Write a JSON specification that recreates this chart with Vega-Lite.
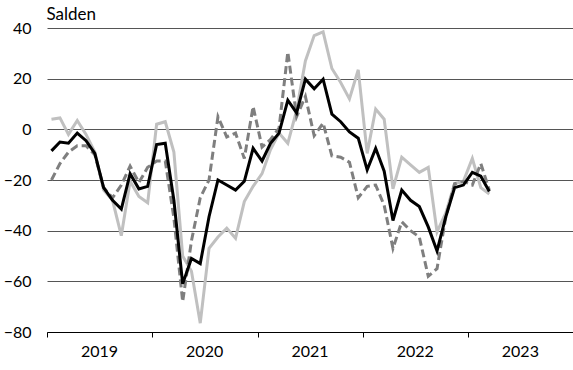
{
  "$schema": "https://vega.github.io/schema/vega-lite/v6.json",
  "width": 526,
  "height": 304,
  "autosize": "none",
  "padding": {"left": 47, "top": 28, "right": 0, "bottom": 38},
  "background": "white",
  "config": {
    "view": {"stroke": null},
    "font": "Lato",
    "axis": {"labelFont": "Lato", "titleFont": "Lato", "labelColor": "#000", "titleColor": "#000"}
  },
  "datasets": {
    "reihe1": [
      {"m":"2019-01-01","v":-8.5},{"m":"2019-02-01","v":-5},{"m":"2019-03-01","v":-5.5},{"m":"2019-04-01","v":-1.5},{"m":"2019-05-01","v":-4.5},{"m":"2019-06-01","v":-9.5},
      {"m":"2019-07-01","v":-23},{"m":"2019-08-01","v":-28},{"m":"2019-09-01","v":-31.5},{"m":"2019-10-01","v":-17.5},{"m":"2019-11-01","v":-23.5},{"m":"2019-12-01","v":-22.5},
      {"m":"2020-01-01","v":-6},{"m":"2020-02-01","v":-5.5},{"m":"2020-03-01","v":-28},{"m":"2020-04-01","v":-61},{"m":"2020-05-01","v":-51},{"m":"2020-06-01","v":-53},
      {"m":"2020-07-01","v":-34.5},{"m":"2020-08-01","v":-20},{"m":"2020-09-01","v":-22},{"m":"2020-10-01","v":-24},{"m":"2020-11-01","v":-20.5},{"m":"2020-12-01","v":-7.5},
      {"m":"2021-01-01","v":-12.5},{"m":"2021-02-01","v":-5.5},{"m":"2021-03-01","v":-1.5},{"m":"2021-04-01","v":11.5},{"m":"2021-05-01","v":6.5},{"m":"2021-06-01","v":19.8},
      {"m":"2021-07-01","v":16},{"m":"2021-08-01","v":19.8},{"m":"2021-09-01","v":6},{"m":"2021-10-01","v":3},{"m":"2021-11-01","v":-1},{"m":"2021-12-01","v":-3.5},
      {"m":"2022-01-01","v":-16},{"m":"2022-02-01","v":-7.5},{"m":"2022-03-01","v":-16.5},{"m":"2022-04-01","v":-36},{"m":"2022-05-01","v":-24},{"m":"2022-06-01","v":-28},
      {"m":"2022-07-01","v":-30.5},{"m":"2022-08-01","v":-38.5},{"m":"2022-09-01","v":-48},{"m":"2022-10-01","v":-34.5},{"m":"2022-11-01","v":-23},{"m":"2022-12-01","v":-22},
      {"m":"2023-01-01","v":-17},{"m":"2023-02-01","v":-18.5},{"m":"2023-03-01","v":-24.5}
    ],
    "reihe2": [
      {"m":"2019-01-01","v":-20},{"m":"2019-02-01","v":-13.5},{"m":"2019-03-01","v":-9},{"m":"2019-04-01","v":-6.5},{"m":"2019-05-01","v":-6.5},{"m":"2019-06-01","v":-10},
      {"m":"2019-07-01","v":-23},{"m":"2019-08-01","v":-27},{"m":"2019-09-01","v":-22},{"m":"2019-10-01","v":-14.5},{"m":"2019-11-01","v":-21},{"m":"2019-12-01","v":-15},
      {"m":"2020-01-01","v":-12.5},{"m":"2020-02-01","v":-12.5},{"m":"2020-03-01","v":-35},{"m":"2020-04-01","v":-68},{"m":"2020-05-01","v":-44},{"m":"2020-06-01","v":-27},
      {"m":"2020-07-01","v":-20},{"m":"2020-08-01","v":5},{"m":"2020-09-01","v":-3},{"m":"2020-10-01","v":-1.5},{"m":"2020-11-01","v":-11.5},{"m":"2020-12-01","v":9},
      {"m":"2021-01-01","v":-7},{"m":"2021-02-01","v":-4},{"m":"2021-03-01","v":0.5},{"m":"2021-04-01","v":30.5},{"m":"2021-05-01","v":5},{"m":"2021-06-01","v":13},
      {"m":"2021-07-01","v":-2.5},{"m":"2021-08-01","v":2.5},{"m":"2021-09-01","v":-10.5},{"m":"2021-10-01","v":-11},{"m":"2021-11-01","v":-13},{"m":"2021-12-01","v":-27},
      {"m":"2022-01-01","v":-22.5},{"m":"2022-02-01","v":-22},{"m":"2022-03-01","v":-30},{"m":"2022-04-01","v":-47},{"m":"2022-05-01","v":-36.5},{"m":"2022-06-01","v":-40},
      {"m":"2022-07-01","v":-42.5},{"m":"2022-08-01","v":-58},{"m":"2022-09-01","v":-55},{"m":"2022-10-01","v":-34.5},{"m":"2022-11-01","v":-21.5},{"m":"2022-12-01","v":-20.5},
      {"m":"2023-01-01","v":-22},{"m":"2023-02-01","v":-13.5},{"m":"2023-03-01","v":-24}
    ],
    "reihe3": [
      {"m":"2019-01-01","v":4},{"m":"2019-02-01","v":4.5},{"m":"2019-03-01","v":-2},{"m":"2019-04-01","v":3.5},{"m":"2019-05-01","v":-2},{"m":"2019-06-01","v":-9},
      {"m":"2019-07-01","v":-24},{"m":"2019-08-01","v":-28},{"m":"2019-09-01","v":-42},{"m":"2019-10-01","v":-20.5},{"m":"2019-11-01","v":-26.5},{"m":"2019-12-01","v":-29},
      {"m":"2020-01-01","v":2},{"m":"2020-02-01","v":3},{"m":"2020-03-01","v":-9},{"m":"2020-04-01","v":-50},{"m":"2020-05-01","v":-56},{"m":"2020-06-01","v":-76.5},
      {"m":"2020-07-01","v":-47},{"m":"2020-08-01","v":-42.5},{"m":"2020-09-01","v":-39},{"m":"2020-10-01","v":-43},{"m":"2020-11-01","v":-28.5},{"m":"2020-12-01","v":-22.5},
      {"m":"2021-01-01","v":-17.5},{"m":"2021-02-01","v":-8},{"m":"2021-03-01","v":-1.5},{"m":"2021-04-01","v":-5.5},{"m":"2021-05-01","v":7.5},{"m":"2021-06-01","v":27},
      {"m":"2021-07-01","v":37},{"m":"2021-08-01","v":38.5},{"m":"2021-09-01","v":24},{"m":"2021-10-01","v":18.5},{"m":"2021-11-01","v":12},{"m":"2021-12-01","v":23.5},
      {"m":"2022-01-01","v":-9.5},{"m":"2022-02-01","v":8},{"m":"2022-03-01","v":4},{"m":"2022-04-01","v":-23.5},{"m":"2022-05-01","v":-11},{"m":"2022-06-01","v":-14},
      {"m":"2022-07-01","v":-17},{"m":"2022-08-01","v":-15},{"m":"2022-09-01","v":-40.5},{"m":"2022-10-01","v":-33},{"m":"2022-11-01","v":-21.5},{"m":"2022-12-01","v":-20.5},
      {"m":"2023-01-01","v":-11.5},{"m":"2023-02-01","v":-23},{"m":"2023-03-01","v":-25.5}
    ]
  },
  "encoding": {
    "x": {
      "field": "m", "type": "temporal", "timeUnit": "yearmonth", "bandPosition": 0.5,
      "scale": {"domain": [{"year": 2019, "month": 1, "date": 1}, {"year": 2024, "month": 1, "date": 1}], "nice": false},
      "axis": {
        "title": null,
        "tickCount": {"interval": "year", "step": 1},
        "labelExpr": "year(datum.value) > 2023 ? '' : timeFormat(datum.value, '%Y')",
        "labelOffset": 52,
        "labelAlign": "center",
        "labelFlush": false,
        "labelOverlap": false,
        "labelFontSize": 16,
        "labelPadding": 6,
        "tickSize": 5,
        "tickColor": "#000",
        "domainColor": "#000",
        "domainWidth": 1,
        "grid": false
      }
    },
    "y": {
      "field": "v", "type": "quantitative",
      "scale": {"domain": [-80, 40], "nice": false},
      "axis": {
        "title": "Salden",
        "titleAngle": 0,
        "titleAlign": "left",
        "titleBaseline": "alphabetic",
        "titleX": -1,
        "titleY": -9,
        "titleFontSize": 17,
        "titleFontWeight": "normal",
        "values": [-80, -60, -40, -20, 0, 20, 40],
        "labelFontSize": 16,
        "labelPadding": 16,
        "ticks": false,
        "domain": false,
        "grid": true,
        "gridColor": "#555",
        "gridWidth": 1
      }
    }
  },
  "layer": [
    {
      "data": {"name": "reihe3"},
      "mark": {"type": "line", "color": "#c0c0c0", "strokeWidth": 3}
    },
    {
      "data": {"name": "reihe2"},
      "mark": {"type": "line", "color": "#7f7f7f", "strokeWidth": 3, "strokeDash": [8, 4]}
    },
    {
      "data": {"name": "reihe1"},
      "mark": {"type": "line", "color": "#000000", "strokeWidth": 3}
    }
  ]
}
